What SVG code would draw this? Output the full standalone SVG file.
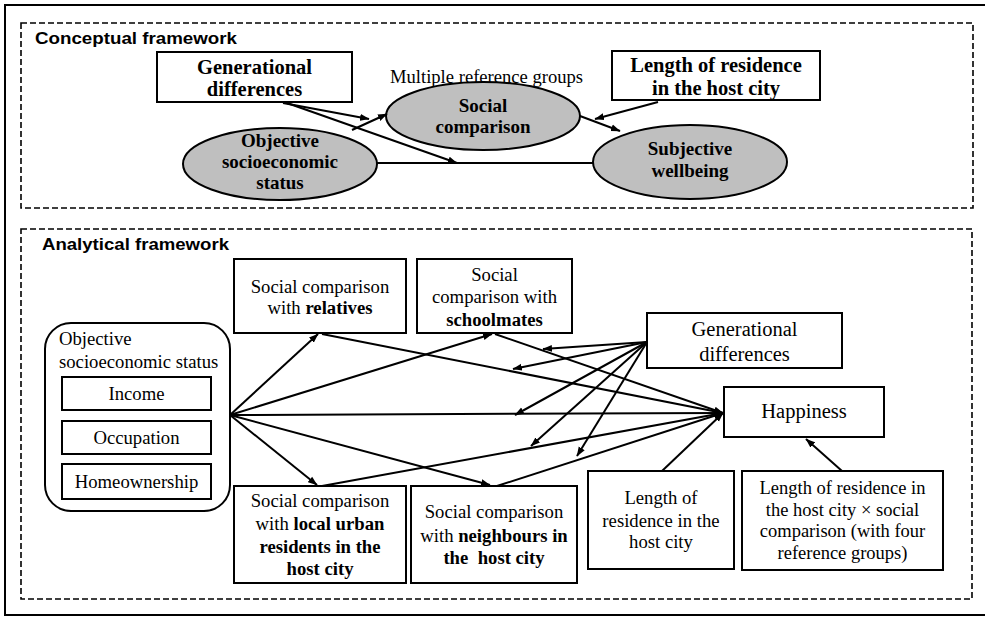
<svg xmlns="http://www.w3.org/2000/svg" width="985" height="617" viewBox="0 0 985 617">
<style>
.frame{fill:none;stroke:#000;stroke-width:2}
.dash{fill:none;stroke:#000;stroke-width:1.6;stroke-dasharray:6 3}
.box{fill:#fff;stroke:#000;stroke-width:2}
.ell{fill:#bfbfbf;stroke:#000;stroke-width:2}
.t{font-family:"Liberation Serif","Times New Roman",serif;fill:#000;text-anchor:middle}
.tl{font-family:"Liberation Serif","Times New Roman",serif;fill:#000}
.b{font-weight:bold}
.h{font-family:"Liberation Sans",Arial,sans-serif;font-weight:bold;font-size:16.5px;fill:#000}
.s20{font-size:20.5px}
.s19{font-size:19px}
.s187{font-size:18.7px}
.c line,.c path{stroke:#000;stroke-width:2;fill:none}
.a{marker-end:url(#ah)}
</style>
<defs>
<marker id="ah" markerUnits="userSpaceOnUse" markerWidth="10" markerHeight="8" refX="9" refY="4" orient="auto">
<path d="M0,0.5 L9.5,4 L0,7.5 z" fill="#000"/>
</marker>
</defs>
<path class="frame" d="M985,5 H5 V615 H985"/>
<rect class="dash" x="21" y="23" width="952" height="185"/>
<rect class="dash" x="21" y="229" width="951" height="370"/>
<text class="h" x="35" y="44" textLength="202" lengthAdjust="spacingAndGlyphs">Conceptual framework</text>
<text class="h" x="42" y="250" textLength="187" lengthAdjust="spacingAndGlyphs">Analytical framework</text>

<g id="gen-diff-top"><rect class="box" x="157" y="52" width="195" height="50"/>
<text class="t b s20" x="254.5" y="74">Generational</text><text class="t b s20" x="254.5" y="96">differences</text></g>
<g id="multiple-ref"><text class="tl" style="font-size:18.6px" x="390" y="83">Multiple reference groups</text></g>
<g id="length-top"><rect class="box" x="612" y="51" width="208" height="49"/>
<text class="t b s20" x="716" y="72">Length of residence</text><text class="t b s20" x="716" y="95">in the host city</text></g>
<g id="social-comp-top"><ellipse class="ell" cx="483" cy="116" rx="97" ry="34"/>
<text class="t b s19" x="483" y="112">Social</text><text class="t b s19" x="483" y="133">comparison</text></g>
<g id="objective-top"><ellipse class="ell" cx="280" cy="164" rx="97" ry="36"/>
<text class="t b s19" x="280" y="147">Objective</text><text class="t b s19" x="280" y="168">socioeconomic</text><text class="t b s19" x="280" y="189">status</text></g>
<g id="subjective-top"><ellipse class="ell" cx="690" cy="162" rx="97" ry="37"/>
<text class="t b s19" x="690" y="155">Subjective</text><text class="t b s19" x="690" y="177">wellbeing</text></g>

<g id="osesbox"><rect class="box" x="45" y="323" width="185" height="188" rx="26"/>
<text class="tl s187" x="59" y="345">Objective</text><text class="tl s187" x="59" y="368">socioeconomic status</text>
<rect class="box" x="62" y="377" width="149" height="33"/><text class="t s187" x="136.5" y="400">Income</text>
<rect class="box" x="62" y="421" width="149" height="33"/><text class="t s187" x="136.5" y="444">Occupation</text>
<rect class="box" x="62" y="464" width="149" height="35"/><text class="t s187" x="136.5" y="488">Homeownership</text></g>
<g id="relatives"><rect class="box" x="234" y="259" width="172" height="74"/>
<text class="t s187" x="320" y="293">Social comparison</text><text class="t s187" x="320" y="314">with <tspan class="b">relatives</tspan></text></g>
<g id="schoolmates"><rect class="box" x="417" y="259" width="155" height="74"/>
<text class="t s187" x="494.5" y="281">Social</text><text class="t s187" x="494.5" y="303">comparison with</text><text class="t s187 b" x="494.5" y="326">schoolmates</text></g>
<g id="gen-diff"><rect class="box" x="647" y="313" width="195" height="55"/>
<text class="t s20" x="744.5" y="336">Generational</text><text class="t s20" x="744.5" y="361">differences</text></g>
<g id="happiness"><rect class="box" x="724" y="387" width="160" height="50"/>
<text class="t s20" x="804" y="418">Happiness</text></g>
<g id="local"><rect class="box" x="234" y="486" width="172" height="97"/>
<text class="t s187" x="320" y="507">Social comparison</text><text class="t s187" x="320" y="530">with <tspan class="b">local urban</tspan></text><text class="t s187 b" x="320" y="553">residents in the</text><text class="t s187 b" x="320" y="575">host city</text></g>
<g id="neighbours"><rect class="box" x="411" y="486" width="166" height="97"/>
<text class="t s187" x="494" y="518">Social comparison</text><text class="t s187" x="494" y="542">with <tspan class="b">neighbours in</tspan></text><text class="t s187 b" x="494" y="564">the&#160; host city</text></g>
<g id="length"><rect class="box" x="588" y="471" width="146" height="98"/>
<text class="t s187" x="661" y="504">Length of</text><text class="t s187" x="661" y="527">residence in the</text><text class="t s187" x="661" y="548">host city</text></g>
<g id="interaction"><rect class="box" x="742" y="471" width="201" height="99"/>
<text class="t" style="font-size:18.5px" x="842.5" y="494">Length of residence in</text><text class="t" style="font-size:18.5px" x="842.5" y="516">the host city × social</text><text class="t" style="font-size:18.5px" x="842.5" y="537">comparison (with four</text><text class="t" style="font-size:18.5px" x="842.5" y="559">reference groups)</text></g>

<g id="connectors" class="c">
<line class="a" x1="283" y1="103" x2="369" y2="119"/>
<line class="a" x1="287" y1="103" x2="457" y2="163"/>
<line class="a" x1="352" y1="130" x2="387" y2="114"/>
<line x1="377" y1="163" x2="594" y2="163"/>
<line class="a" x1="580" y1="116" x2="620" y2="131"/>
<line class="a" x1="658" y1="102" x2="595" y2="119"/>

<line class="a" x1="230" y1="415" x2="318" y2="334"/>
<line class="a" x1="230" y1="415" x2="492" y2="334"/>
<line class="a" x1="230" y1="415" x2="723" y2="413"/>
<line class="a" x1="230" y1="415" x2="317" y2="485"/>
<line class="a" x1="230" y1="415" x2="490" y2="485"/>
<line class="a" x1="322" y1="334" x2="723" y2="413"/>
<line class="a" x1="495" y1="334" x2="723" y2="413"/>
<line class="a" x1="322" y1="486" x2="723" y2="413"/>
<line class="a" x1="497" y1="486" x2="723" y2="413"/>
<line class="a" x1="662" y1="471" x2="723" y2="413"/>
<line class="a" x1="647" y1="342" x2="543" y2="349"/>
<line class="a" x1="647" y1="342" x2="513" y2="369"/>
<line class="a" x1="647" y1="342" x2="515" y2="415"/>
<line class="a" x1="647" y1="342" x2="531" y2="446"/>
<line class="a" x1="647" y1="342" x2="577" y2="456"/>
<line class="a" x1="842" y1="471" x2="806" y2="439"/>
</g>
</svg>
